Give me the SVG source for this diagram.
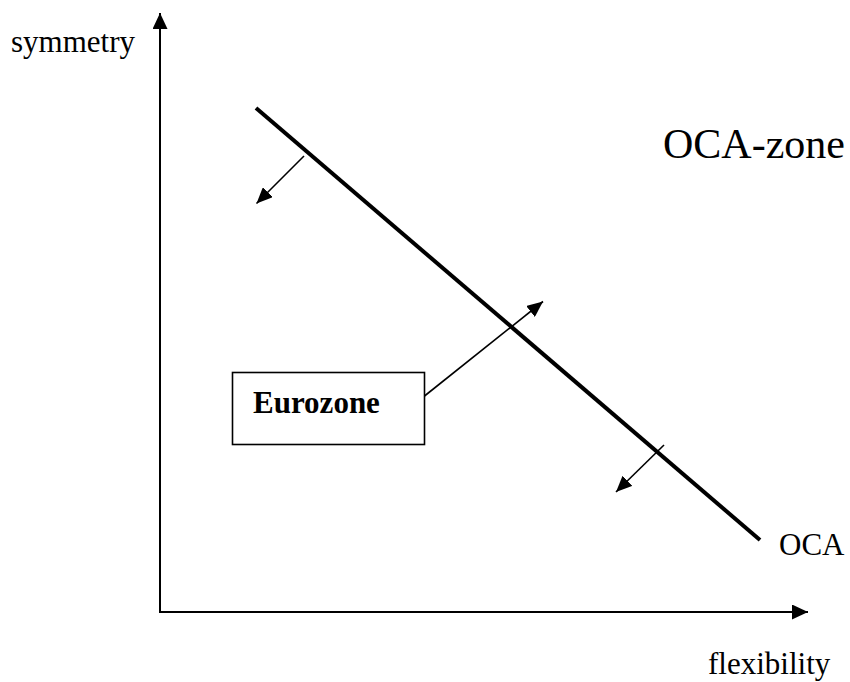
<svg xmlns="http://www.w3.org/2000/svg" width="850" height="682" viewBox="0 0 850 682">
<style>
.t{font-family:"Liberation Serif","Times New Roman",serif;font-size:31px;fill:#000}
.ax{stroke:#000;stroke-width:2;fill:none}
.ar{stroke:#000;stroke-width:1.6;fill:none}
</style>
<defs>
<marker id="ah" markerUnits="userSpaceOnUse" markerWidth="16" markerHeight="14" refX="16" refY="7" orient="auto"><path d="M0,0 L16,7 L0,14 z" fill="#000"/></marker>
<marker id="axh" markerUnits="userSpaceOnUse" markerWidth="16" markerHeight="15" refX="16" refY="7.5" orient="auto"><path d="M0,0 L16,7.5 L0,15 z" fill="#000"/></marker>
</defs>
<rect width="850" height="682" fill="#fff"/>
<g id="axes">
<line class="ax" x1="160" y1="612" x2="160" y2="13" marker-end="url(#axh)"/>
<line class="ax" x1="159" y1="612" x2="808" y2="612" marker-end="url(#axh)"/>
<text class="t" x="11" y="52">symmetry</text>
<text class="t" x="708" y="674">flexibility</text>
</g>
<g id="oca-line">
<line x1="256" y1="108" x2="760" y2="540" stroke="#000" stroke-width="4"/>
<text class="t" x="779" y="555">OCA</text>
</g>
<g id="oca-zone">
<text class="t" x="663" y="158" style="font-size:42px">OCA-zone</text>
</g>
<g id="eurozone">
<rect x="232.5" y="372.5" width="192" height="72" fill="#fff" stroke="#000" stroke-width="1.6"/>
<text class="t" x="253" y="413" style="font-weight:bold">Eurozone</text>
</g>
<g id="connectors">
<line class="ar" x1="304" y1="156" x2="256.5" y2="203.5" marker-end="url(#ah)"/>
<line class="ar" x1="424.5" y1="396" x2="543" y2="301.5" marker-end="url(#ah)"/>
<line class="ar" x1="664" y1="445" x2="616" y2="492" marker-end="url(#ah)"/>
</g>
</svg>
